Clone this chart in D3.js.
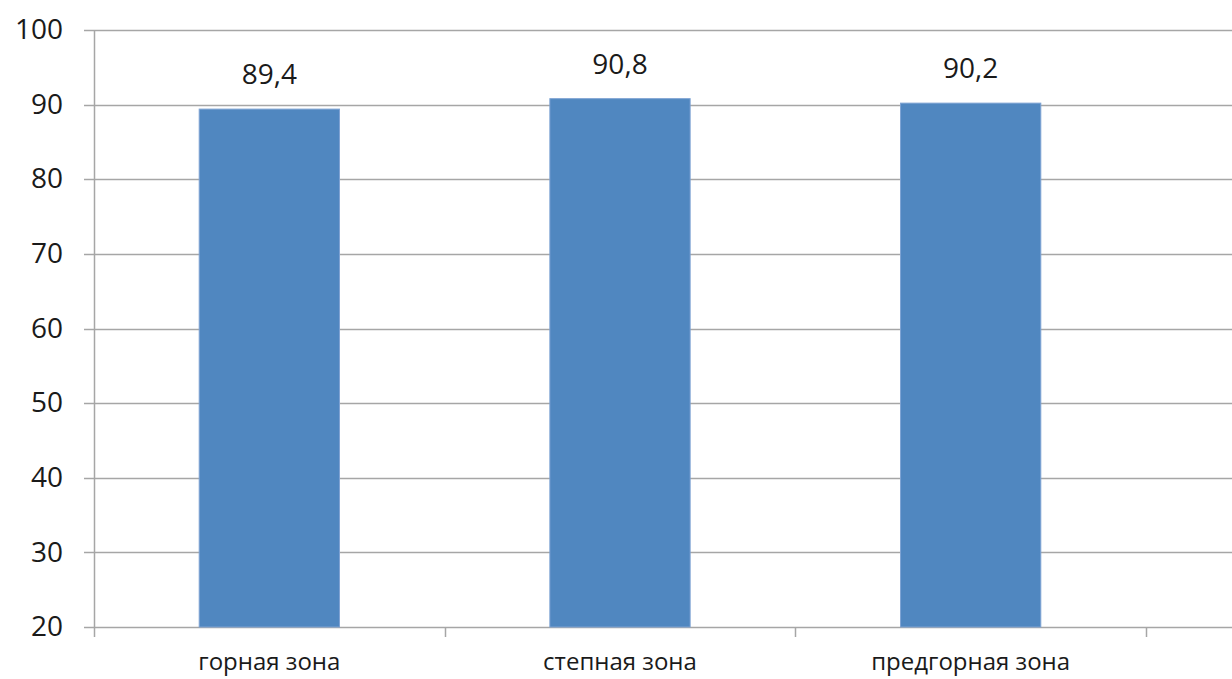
<!DOCTYPE html>
<html>
<head>
<meta charset="UTF-8">
<script src="https://d3js.org/d3.v7.min.js"></script>
<style>
  body { margin: 0; background: #fff; }
  svg text { font-family: "Open Sans", "DejaVu Sans", sans-serif; fill: #1a1a1a; }
</style>
</head>
<body>
<svg width="1232" height="679"></svg>
<script>
var categories = ["горная зона", "степная зона", "предгорная зона"];
var values = [89.4, 90.8, 90.2];
var labels = ["89,4", "90,8", "90,2"];
var yTicks = [20, 30, 40, 50, 60, 70, 80, 90, 100];

var svg = d3.select("svg");
var plotLeft = 94, plotRight = 1146, plotTop = 30, plotBottom = 627;

var x = d3.scaleBand().domain(categories).range([plotLeft, plotRight]).paddingInner(0).paddingOuter(0);
var y = d3.scaleLinear().domain([20, 100]).range([plotBottom, plotTop]);

// gridlines
svg.append("g")
  .selectAll("line")
  .data(yTicks)
  .enter().append("line")
    .attr("x1", plotLeft - 10)
    .attr("x2", 1232)
    .attr("y1", function(d){ return Math.round(y(d)) + 0.5; })
    .attr("y2", function(d){ return Math.round(y(d)) + 0.5; })
    .attr("stroke", "#a6a6a6")
    .attr("stroke-width", 1.5);

// y axis line
svg.append("line")
  .attr("x1", plotLeft + 0.5).attr("x2", plotLeft + 0.5)
  .attr("y1", plotTop).attr("y2", plotBottom + 10)
  .attr("stroke", "#a6a6a6").attr("stroke-width", 1.5);

// x ticks at band boundaries
var bounds = categories.map(function(c){ return x(c); }).concat([plotRight]);
svg.append("g")
  .selectAll("line")
  .data(bounds.slice(1))
  .enter().append("line")
    .attr("x1", function(d){ return Math.round(d) + 0.5; })
    .attr("x2", function(d){ return Math.round(d) + 0.5; })
    .attr("y1", plotBottom)
    .attr("y2", plotBottom + 10)
    .attr("stroke", "#a6a6a6").attr("stroke-width", 1.5);

// y tick labels
svg.append("g")
  .selectAll("text")
  .data(yTicks)
  .enter().append("text")
    .attr("x", 63)
    .attr("y", function(d){ return y(d); })
    .attr("dy", "0.33em")
    .attr("text-anchor", "end")
    .attr("font-size", 28)
    .text(function(d){ return d; });

// bars
var bw = x.bandwidth() * 0.4;
svg.append("g")
  .selectAll("rect")
  .data(values)
  .enter().append("rect")
    .attr("x", function(d, i){ return x(categories[i]) + (x.bandwidth() - bw) / 2; })
    .attr("y", function(d){ return y(d); })
    .attr("width", bw)
    .attr("height", function(d){ return y(20) - y(d); })
    .attr("fill", "#5087c0")
    .attr("stroke", "#7ea3d3")
    .attr("stroke-width", 1);

// value labels
svg.append("g")
  .selectAll("text")
  .data(values)
  .enter().append("text")
    .attr("x", function(d, i){ return x(categories[i]) + x.bandwidth() / 2; })
    .attr("y", function(d){ return y(d) - 25; })
    .attr("text-anchor", "middle")
    .attr("font-size", 28)
    .text(function(d, i){ return labels[i]; });

// category labels
svg.append("g")
  .selectAll("text")
  .data(categories)
  .enter().append("text")
    .attr("x", function(d){ return x(d) + x.bandwidth() / 2; })
    .attr("y", 670)
    .attr("text-anchor", "middle")
    .attr("font-size", 24)
    .text(function(d){ return d; });
</script>
</body>
</html>
